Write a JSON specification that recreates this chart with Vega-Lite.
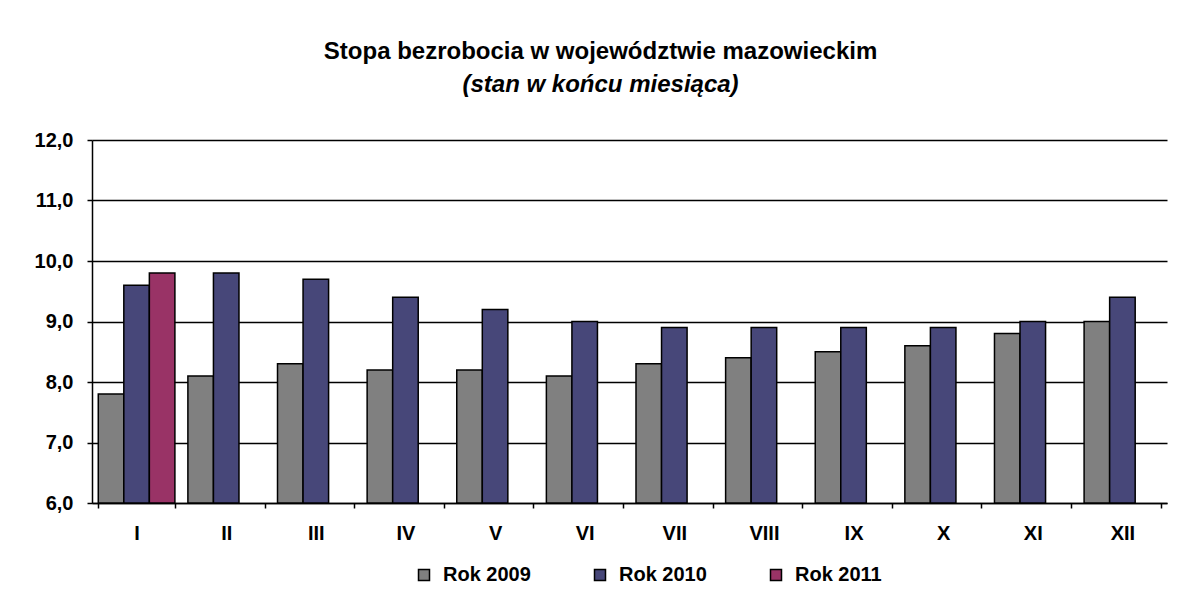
{
  "$schema": "https://vega.github.io/schema/vega-lite/v6.json",
  "autosize": "none",
  "width": 1075,
  "height": 363,
  "padding": {"left": 92, "top": 140, "right": 16, "bottom": 88},
  "background": "white",
  "title": {
    "text": "Stopa bezrobocia w województwie mazowieckim",
    "subtitle": "(stan w końcu miesiąca)",
    "anchor": "middle",
    "frame": "bounds",
    "font": "Liberation Sans",
    "fontSize": 24,
    "fontWeight": "bold",
    "color": "black",
    "subtitleFont": "Liberation Sans",
    "subtitleFontSize": 24,
    "subtitleFontWeight": "bold",
    "subtitleFontStyle": "italic",
    "subtitleColor": "black",
    "subtitlePadding": 9,
    "offset": 33
  },
  "data": {
    "values": [
      {"miesiac": "I", "rok": "Rok 2009", "stopa": 7.8},
      {"miesiac": "II", "rok": "Rok 2009", "stopa": 8.1},
      {"miesiac": "III", "rok": "Rok 2009", "stopa": 8.3},
      {"miesiac": "IV", "rok": "Rok 2009", "stopa": 8.2},
      {"miesiac": "V", "rok": "Rok 2009", "stopa": 8.2},
      {"miesiac": "VI", "rok": "Rok 2009", "stopa": 8.1},
      {"miesiac": "VII", "rok": "Rok 2009", "stopa": 8.3},
      {"miesiac": "VIII", "rok": "Rok 2009", "stopa": 8.4},
      {"miesiac": "IX", "rok": "Rok 2009", "stopa": 8.5},
      {"miesiac": "X", "rok": "Rok 2009", "stopa": 8.6},
      {"miesiac": "XI", "rok": "Rok 2009", "stopa": 8.8},
      {"miesiac": "XII", "rok": "Rok 2009", "stopa": 9.0},
      {"miesiac": "I", "rok": "Rok 2010", "stopa": 9.6},
      {"miesiac": "II", "rok": "Rok 2010", "stopa": 9.8},
      {"miesiac": "III", "rok": "Rok 2010", "stopa": 9.7},
      {"miesiac": "IV", "rok": "Rok 2010", "stopa": 9.4},
      {"miesiac": "V", "rok": "Rok 2010", "stopa": 9.2},
      {"miesiac": "VI", "rok": "Rok 2010", "stopa": 9.0},
      {"miesiac": "VII", "rok": "Rok 2010", "stopa": 8.9},
      {"miesiac": "VIII", "rok": "Rok 2010", "stopa": 8.9},
      {"miesiac": "IX", "rok": "Rok 2010", "stopa": 8.9},
      {"miesiac": "X", "rok": "Rok 2010", "stopa": 8.9},
      {"miesiac": "XI", "rok": "Rok 2010", "stopa": 9.0},
      {"miesiac": "XII", "rok": "Rok 2010", "stopa": 9.4},
      {"miesiac": "I", "rok": "Rok 2011", "stopa": 9.8}
    ]
  },
  "mark": {"type": "bar", "stroke": "black", "strokeWidth": 1.5},
  "encoding": {
    "x": {
      "field": "miesiac",
      "type": "nominal",
      "sort": ["I", "II", "III", "IV", "V", "VI", "VII", "VIII", "IX", "X", "XI", "XII"],
      "scale": {"paddingInner": 0.145, "paddingOuter": 0.07},
      "axis": {
        "title": null,
        "labelAngle": 0,
        "tickBand": "extent",
        "grid": false,
        "labelFont": "Liberation Sans",
        "labelFontSize": 20,
        "labelFontWeight": "bold",
        "labelColor": "black",
        "labelPadding": 15,
        "tickSize": 5,
        "tickColor": "black",
        "tickWidth": 1.5,
        "domainColor": "black",
        "domainWidth": 1.5
      }
    },
    "xOffset": {
      "field": "rok",
      "type": "nominal",
      "scale": {"domain": ["Rok 2009", "Rok 2010", "Rok 2011"], "paddingInner": 0, "paddingOuter": 0}
    },
    "y": {
      "field": "stopa",
      "type": "quantitative",
      "scale": {"domain": [6, 12], "zero": false, "nice": false},
      "axis": {
        "title": null,
        "values": [6, 7, 8, 9, 10, 11, 12],
        "format": ".1f",
        "grid": true,
        "gridColor": "black",
        "gridWidth": 1.5,
        "gridOpacity": 1,
        "labelFont": "Liberation Sans",
        "labelFontSize": 20,
        "labelFontWeight": "bold",
        "labelColor": "black",
        "labelPadding": 14,
        "tickSize": 5,
        "tickColor": "black",
        "tickWidth": 1.5,
        "domainColor": "black",
        "domainWidth": 1.5
      }
    },
    "y2": {"datum": 6},
    "color": {
      "field": "rok",
      "type": "nominal",
      "scale": {"domain": ["Rok 2009", "Rok 2010", "Rok 2011"], "range": ["#808080", "#474779", "#993366"]},
      "legend": {
        "title": null,
        "orient": "none",
        "legendX": 322,
        "legendY": 425,
        "direction": "horizontal",
        "symbolType": "square",
        "symbolSize": 121,
        "symbolStrokeColor": "black",
        "symbolStrokeWidth": 1.5,
        "symbolOpacity": 1,
        "labelFont": "Liberation Sans",
        "labelFontSize": 20,
        "labelFontWeight": "bold",
        "labelColor": "black",
        "labelOffset": 9,
        "columnPadding": 59
      }
    }
  },
  "config": {
    "locale": {
      "number": {"decimal": ",", "thousands": " ", "grouping": [3], "currency": ["", " zł"]}
    },
    "view": {"stroke": null}
  }
}
